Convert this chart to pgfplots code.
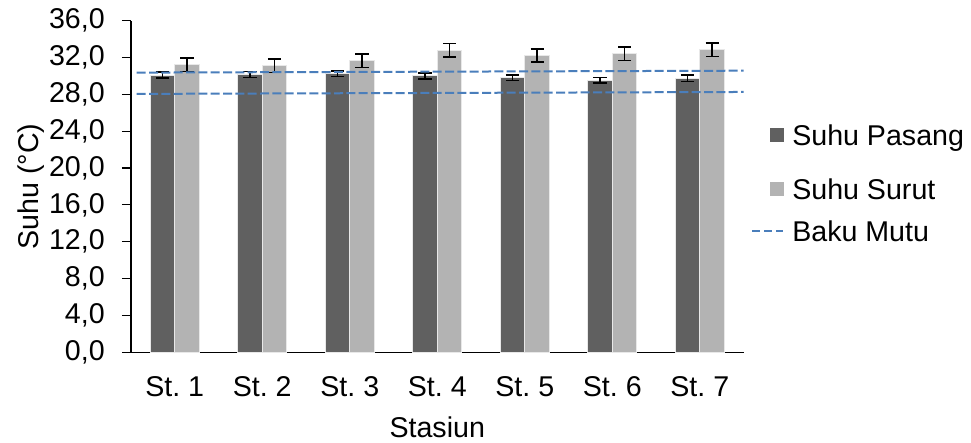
\documentclass[border=0pt]{standalone}
\usepackage{fontspec}
\setmainfont{Liberation Sans}
\usepackage{pgfplots}
\pgfplotsset{compat=1.18}
\definecolor{pasang}{RGB}{96,96,96}
\definecolor{surut}{RGB}{179,179,179}
\definecolor{edgec}{RGB}{232,232,232}
\definecolor{baku}{RGB}{74,126,187}
\frenchspacing
\begin{document}
\frenchspacing
\begin{tikzpicture}[font=\fontsize{21.45}{25.7}\selectfont]
\path[use as bounding box] (-98.25pt,-68pt) rectangle (630pt,264.2pt);
\begin{axis}[
  at={(0,0)}, anchor=south west,
  scale only axis, width=459.4pt, height=248.7pt,
  font=\fontsize{21.45}{25.7}\selectfont,
  ybar=0pt, bar width=18.4pt,
  xmin=-0.5, xmax=6.5, ymin=0, ymax=36,
  axis x line*=bottom, axis y line*=left,
  axis line style={line width=0.9pt, black},
  xtick={0,1,2,3,4,5,6},
  xticklabels={St.\ 1,St.\ 2,St.\ 3,St.\ 4,St.\ 5,St.\ 6,St.\ 7},
  xtick style={draw=none},
  ytick={0,4,8,12,16,20,24,28,32,36},
  tick align=outside, major tick length=6.75pt,
  ytick style={line width=0.9pt, black},
  /pgf/number format/fixed, /pgf/number format/fixed zerofill,
  /pgf/number format/precision=1, /pgf/number format/use comma,
  /pgf/number format/assume math mode=true,
  yticklabel style={inner sep=0pt, anchor=east, xshift=-12.75pt},
  xticklabel style={inner sep=0pt, anchor=north, yshift=-11pt},
  xlabel={Stasiun}, ylabel={Suhu (°C)},
  xlabel style={at={(axis description cs:0.5,-0.2585)}, anchor=base},
  ylabel style={at={(axis description cs:-0.1502,0.5)}, anchor=base},
  legend style={draw=none, fill=none, at={(1.01224,0.7548)}, anchor=north west,
    inner sep=0pt, column sep=6pt, row sep=0pt,
    font=\fontsize{21.45}{25.7}\selectfont,
    nodes={inner sep=0pt, text height=23.45pt, text depth=8.05pt},
    cells={anchor=west}},
  legend cell align=left,
]
\addplot[fill=pasang, draw=edgec, line width=0.75pt,
  legend image code/.code={\path[draw=none,fill=none] (0pt,0pt) -- (24pt,0pt); \fill[pasang,draw=none] (13.5pt,-5.25pt) rectangle (24pt,5.25pt);},
  error bars/.cd, y dir=both, y explicit,
  error bar style={black, line width=1.1pt},
  error mark options={rotate=90, black, mark size=4.9pt, line width=1.1pt}]
coordinates {
 (0,30.10) +- (0,0.34)
 (1,30.18) +- (0,0.33)
 (2,30.25) +- (0,0.31)
 (3,30.00) +- (0,0.34)
 (4,29.78) +- (0,0.30)
 (5,29.53) +- (0,0.29)
 (6,29.75) +- (0,0.33)
};
\addlegendentry[text height=32.45pt, text depth=17.05pt]{Suhu Pasang}
\addplot[fill=surut, draw=edgec, line width=0.75pt,
  legend image code/.code={\path[draw=none,fill=none] (0pt,0pt) -- (24pt,0pt); \fill[surut,draw=none] (13.5pt,-5.25pt) rectangle (24pt,5.25pt);},
  error bars/.cd, y dir=both, y explicit,
  error bar style={black, line width=1.1pt},
  error mark options={rotate=90, black, mark size=4.9pt, line width=1.1pt}]
coordinates {
 (0,31.23) +- (0,0.74)
 (1,31.12) +- (0,0.74)
 (2,31.63) +- (0,0.74)
 (3,32.79) +- (0,0.72)
 (4,32.20) +- (0,0.70)
 (5,32.42) +- (0,0.74)
 (6,32.86) +- (0,0.74)
};
\addlegendentry{Suhu Surut}
\addplot[sharp plot, baku, line width=1.5pt, dash pattern=on 6.75pt off 2.5pt,
  legend image code/.code={\draw[baku, line width=1.5pt, dash pattern=on 5.5pt off 3.5pt] (0pt,0pt) -- (23.25pt,0pt);}]
coordinates {(-0.435,30.36) (6.517,30.57)};
\addlegendentry{Baku Mutu}
\addplot[sharp plot, baku, line width=1.5pt, dash pattern=on 6.75pt off 2.5pt, forget plot]
coordinates {(-0.435,28.05) (6.517,28.26)};
\end{axis}
\end{tikzpicture}
\end{document}
